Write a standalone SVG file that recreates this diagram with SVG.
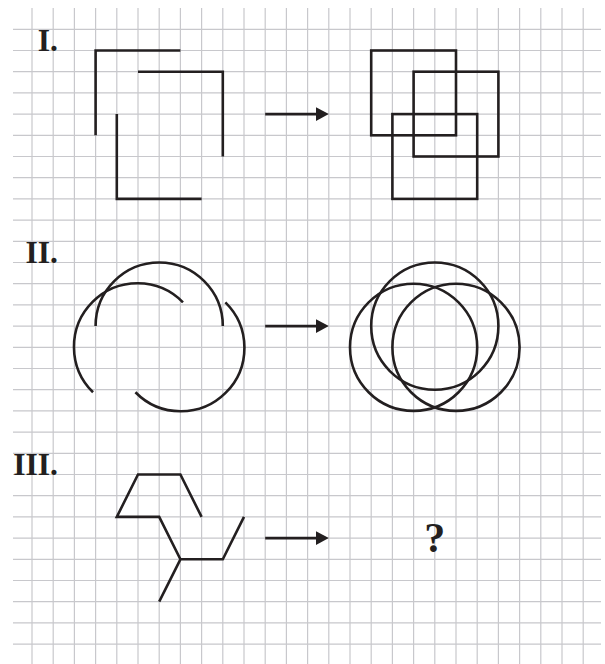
<svg xmlns="http://www.w3.org/2000/svg" width="605" height="664" viewBox="0 0 605 664">
<style>
.grid{stroke:#c8c8cc;stroke-width:1.2;fill:none}
.fig{stroke:#231f20;stroke-width:2.6;fill:none;stroke-linecap:butt;stroke-linejoin:miter}
.arr{stroke:#231f20;stroke-width:2.6;fill:none}
.lbl{font-family:"Liberation Serif","Times New Roman",serif;font-weight:bold;fill:#231f20}
</style>
<defs>
<marker id="ah" markerUnits="userSpaceOnUse" markerWidth="14" markerHeight="14" refX="4.2" refY="7" orient="auto">
<path d="M0,0 L13,7 L0,14 z" fill="#231f20"/>
</marker>
</defs>
<rect width="605" height="664" fill="#ffffff"/>
<g id="grid" class="grid">
<path d="M32,8V664M53.2,8V664M74.4,8V664M95.6,8V664M116.8,8V664M138,8V664M159.2,8V664M180.4,8V664M201.6,8V664M222.8,8V664M244,8V664M265.2,8V664M286.4,8V664M307.6,8V664M328.8,8V664M350,8V664M371.2,8V664M392.4,8V664M413.6,8V664M434.8,8V664M456,8V664M477.2,8V664M498.4,8V664M519.6,8V664M540.8,8V664M562,8V664M583.2,8V664"/>
<path d="M13,29.3H601M13,50.5H601M13,71.7H601M13,92.9H601M13,114.1H601M13,135.3H601M13,156.5H601M13,177.7H601M13,198.9H601M13,220.1H601M13,241.3H601M13,262.5H601M13,283.7H601M13,304.9H601M13,326.1H601M13,347.3H601M13,368.5H601M13,389.7H601M13,410.9H601M13,432.1H601M13,453.3H601M13,474.5H601M13,495.7H601M13,516.9H601M13,538.1H601M13,559.3H601M13,580.5H601M13,601.7H601M13,622.9H601M13,644.1H601"/>
</g>
<g id="labels" class="lbl" font-size="31.5" text-anchor="end">
<text x="58" y="50.5">I.</text>
<text x="58" y="262.5">II.</text>
<text x="58" y="474.5">III.</text>
</g>
<g id="fig1-left" class="fig">
<path d="M180.4,50.5H95.6V135.3"/>
<path d="M138,71.7H222.8V156.5"/>
<path d="M116.8,114.1V198.9H201.6"/>
</g>
<g id="fig1-right" class="fig">
<rect x="371.2" y="50.5" width="84.8" height="84.8"/>
<rect x="413.6" y="71.7" width="84.8" height="84.8"/>
<rect x="392.4" y="114.1" width="84.8" height="84.8"/>
</g>
<g id="fig2-left" class="fig">
<path d="M95.6,326.1A63.6,63.6 0 0 1 222.8,326.1"/>
<path d="M93.03,392.27A63.6,63.6 0 1 1 182.97,302.33"/>
<path d="M225.37,302.33A63.6,63.6 0 1 1 135.43,392.27"/>
</g>
<g id="fig2-right" class="fig">
<circle cx="434.8" cy="326.1" r="63.6"/>
<circle cx="413.6" cy="347.3" r="63.6"/>
<circle cx="456" cy="347.3" r="63.6"/>
</g>
<g id="fig3-left" class="fig">
<path d="M201.6,516.9L180.4,474.5H138L116.8,516.9H159.2L180.4,559.3H222.8L244,516.9M180.4,559.3L159.2,601.7"/>
</g>
<g id="fig3-right">
<text class="lbl" x="434.8" y="552" font-size="42" text-anchor="middle">?</text>
</g>
<g id="connectors" class="arr">
<path d="M265.2,114.1H320" marker-end="url(#ah)"/>
<path d="M265.2,326.1H320" marker-end="url(#ah)"/>
<path d="M265.2,538.1H320" marker-end="url(#ah)"/>
</g>
</svg>
